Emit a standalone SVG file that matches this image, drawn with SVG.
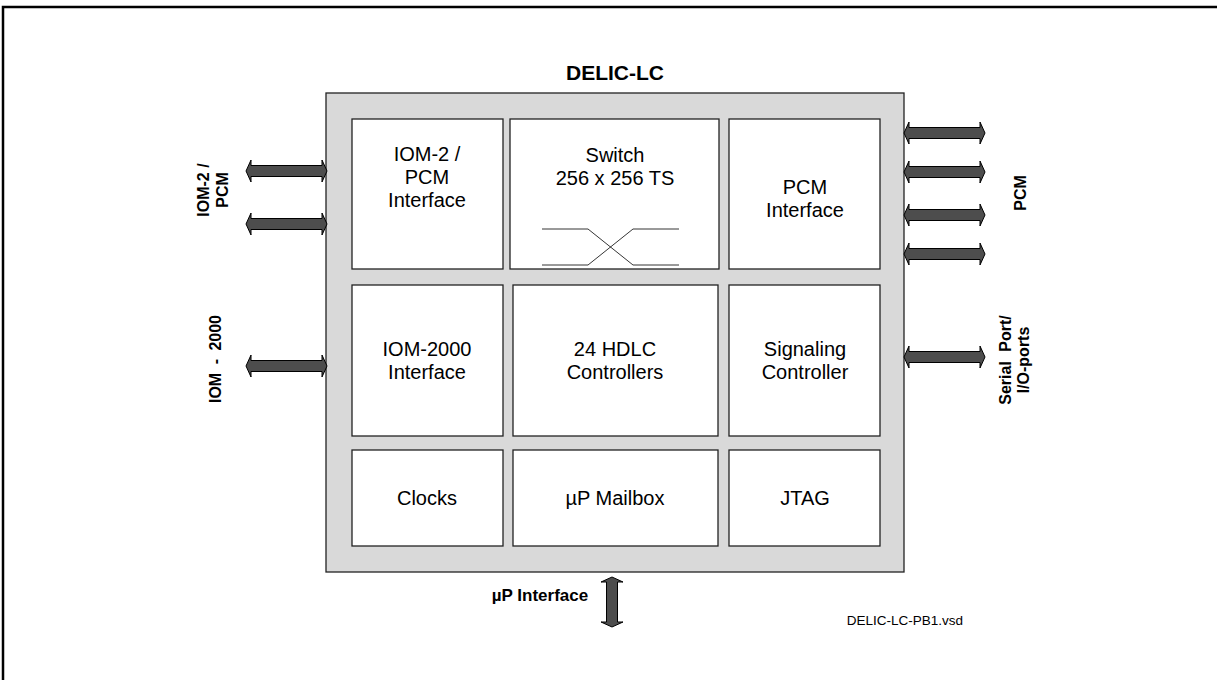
<svg xmlns="http://www.w3.org/2000/svg" width="1217" height="680" viewBox="0 0 1217 680">
<style>
.box{fill:#fff;stroke:#222;stroke-width:1.3}
.main{fill:#d9d9d9;stroke:#222;stroke-width:1.3}
.t{font-family:"Liberation Sans",Arial,sans-serif;font-size:20px;fill:#000;text-anchor:middle}
.b{font-family:"Liberation Sans",Arial,sans-serif;font-weight:bold;font-size:16px;fill:#000;text-anchor:middle}
.arr{fill:#4d4d4d;stroke:#000;stroke-width:1}
.x{fill:none;stroke:#000;stroke-width:0.8}
</style>
<defs>
<polygon id="ha" class="arr" points="0,0 5,-11 5,-5.5 76,-5.5 76,-11 81,0 76,11 76,5.5 5,5.5 5,11"/>
</defs>
<rect x="3" y="7" width="1240" height="700" fill="#fff" stroke="#000" stroke-width="2.5"/>
<g id="chip">
<rect class="main" x="326" y="93" width="578" height="479"/>
<text class="b" x="615" y="80" style="font-size:21px">DELIC-LC</text>
</g>
<g id="iom2pcm">
<rect class="box" x="352" y="119" width="151" height="150"/>
<text class="t" x="427" y="161">IOM-2 /</text>
<text class="t" x="427" y="184">PCM</text>
<text class="t" x="427" y="207">Interface</text>
</g>
<g id="switch">
<rect class="box" x="510" y="119" width="209" height="150"/>
<text class="t" x="615" y="162">Switch</text>
<text class="t" x="615" y="185">256 x 256 TS</text>
<path class="x" d="M542,229 H588 L633,265 H679 M542,265 H588 L633,229 H679"/>
</g>
<g id="pcmif">
<rect class="box" x="729" y="119" width="151" height="150"/>
<text class="t" x="805" y="194">PCM</text>
<text class="t" x="805" y="217">Interface</text>
</g>
<g id="iom2000">
<rect class="box" x="352" y="285" width="151" height="151"/>
<text class="t" x="427" y="356">IOM-2000</text>
<text class="t" x="427" y="379">Interface</text>
</g>
<g id="hdlc">
<rect class="box" x="513" y="285" width="205" height="151"/>
<text class="t" x="615" y="356">24 HDLC</text>
<text class="t" x="615" y="379">Controllers</text>
</g>
<g id="signaling">
<rect class="box" x="729" y="285" width="151" height="151"/>
<text class="t" x="805" y="356">Signaling</text>
<text class="t" x="805" y="379">Controller</text>
</g>
<g id="clocks">
<rect class="box" x="352" y="450" width="151" height="96"/>
<text class="t" x="427" y="505">Clocks</text>
</g>
<g id="mailbox">
<rect class="box" x="513" y="450" width="205" height="96"/>
<text class="t" x="615" y="505">µP Mailbox</text>
</g>
<g id="jtag">
<rect class="box" x="729" y="450" width="151" height="96"/>
<text class="t" x="805" y="505">JTAG</text>
</g>
<g id="connectors">
<use href="#ha" x="246" y="171"/>
<use href="#ha" x="246" y="224"/>
<use href="#ha" x="246" y="366"/>
<use href="#ha" x="904" y="133"/>
<use href="#ha" x="904" y="172"/>
<use href="#ha" x="904" y="215"/>
<use href="#ha" x="904" y="254"/>
<use href="#ha" x="904" y="357"/>
<polygon class="arr" points="612,577 623,582 617.5,582 617.5,622 623,622 612,627 601,622 606.5,622 606.5,582 601,582"/>
</g>
<g id="labels">
<text class="b" transform="translate(209,190) rotate(-90)">IOM-2 /</text>
<text class="b" transform="translate(228,190) rotate(-90)">PCM</text>
<text class="b" transform="translate(221,359) rotate(-90)" style="word-spacing:4px">IOM - 2000</text>
<text class="b" transform="translate(1026,193) rotate(-90)">PCM</text>
<text class="b" transform="translate(1011,360) rotate(-90)" style="word-spacing:5px">Serial Port/</text>
<text class="b" transform="translate(1029,360) rotate(-90)">I/O-ports</text>
<text class="b" x="540" y="601" style="font-size:17px">µP Interface</text>
<text class="t" x="905" y="625" style="font-size:13.5px">DELIC-LC-PB1.vsd</text>
</g>
</svg>
